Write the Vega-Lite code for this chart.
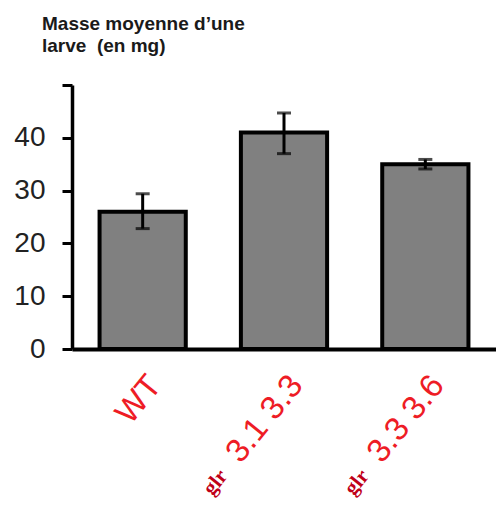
{
  "$schema": "https://vega.github.io/schema/vega-lite/v6.json",
  "width": 424,
  "height": 264,
  "autosize": {"type": "none"},
  "padding": {"left": 72, "top": 85, "right": 0, "bottom": 156},
  "background": "white",
  "title": {
    "text": ["Masse moyenne d’une", "larve\u00a0 (en mg)"],
    "anchor": "start",
    "frame": "group",
    "dx": -30,
    "offset": 28,
    "fontSize": 19,
    "font": "Liberation Sans",
    "fontWeight": "bold",
    "color": "#1a1a1a",
    "lineHeight": 22
  },
  "config": {"view": {"stroke": null}, "font": "Liberation Sans"},
  "data": {
    "values": [
      {"lignee": "WT", "prefix": "", "num": "WT", "mean": 26, "lo": 22.8, "hi": 29.4},
      {"lignee": "glr 3.1 3.3", "prefix": "glr", "num": "3.1 3.3", "mean": 41, "lo": 37.0, "hi": 44.7},
      {"lignee": "glr 3.3 3.6", "prefix": "glr", "num": "3.3 3.6", "mean": 35, "lo": 34.1, "hi": 35.9}
    ]
  },
  "layer": [
    {
      "mark": {"type": "bar", "fill": "#808080", "stroke": "black", "strokeWidth": 4},
      "encoding": {
        "x": {
          "field": "lignee", "type": "nominal", "sort": null,
          "scale": {"paddingInner": 0.39, "paddingOuter": 0.195},
          "axis": {"labels": false, "ticks": false, "title": null, "domainColor": "black", "domainWidth": 4}
        },
        "y": {
          "field": "mean", "type": "quantitative",
          "scale": {"domain": [0, 50]},
          "axis": {
            "values": [0, 10, 20, 30, 40, 50],
            "labelExpr": "datum.value == 50 ? '' : datum.label",
            "grid": false, "title": null,
            "tickSize": 10, "tickWidth": 3, "tickColor": "black",
            "domainColor": "black", "domainWidth": 3.5,
            "labelFontSize": 28, "labelColor": "#222", "labelPadding": 17,
            "labelFont": "Liberation Sans"
          }
        }
      }
    },
    {
      "mark": {
        "type": "errorbar",
        "ticks": {"size": 14, "thickness": 3, "color": "black"},
        "rule": {"strokeWidth": 3, "color": "black"}
      },
      "encoding": {
        "x": {"field": "lignee", "type": "nominal", "sort": null},
        "y": {"field": "lo", "type": "quantitative", "title": null},
        "y2": {"field": "hi"}
      }
    },
    {
      "mark": {
        "type": "text", "angle": 309, "align": "right", "baseline": "alphabetic",
        "dx": -16, "dy": 39, "fontSize": 33, "font": "Liberation Sans", "color": "#ee1c25"
      },
      "encoding": {
        "x": {"field": "lignee", "type": "nominal", "sort": null},
        "y": {"datum": 0, "type": "quantitative"},
        "text": {"field": "num"}
      }
    },
    {
      "mark": {
        "type": "text", "angle": 309, "align": "right", "baseline": "alphabetic",
        "dx": -134, "dy": 37, "fontSize": 21, "font": "Liberation Serif", "fontWeight": "bold", "color": "#c00018"
      },
      "encoding": {
        "x": {"field": "lignee", "type": "nominal", "sort": null},
        "y": {"datum": 0, "type": "quantitative"},
        "text": {"field": "prefix"}
      }
    }
  ]
}
